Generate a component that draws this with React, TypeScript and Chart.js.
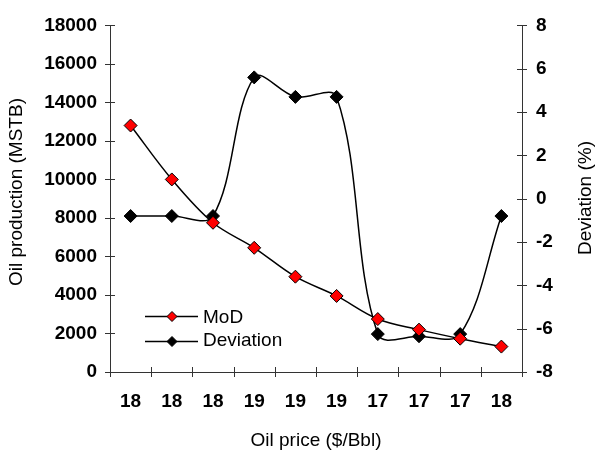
import { useEffect, useRef } from "react";
import { Chart, registerables } from "chart.js";

Chart.register(...registerables);

// Oil price categories along the x axis ($/Bbl)
const priceLabels = ["18", "18", "18", "19", "19", "19", "17", "17", "17", "18"];
// Oil production (MSTB), left axis
const modValues = [12800, 10000, 7750, 6450, 4950, 3950, 2750, 2200, 1730, 1320];
// Deviation (%), right axis
const deviationValues = [-0.8, -0.8, -0.8, 5.6, 4.7, 4.7, -6.25, -6.35, -6.25, -0.8];
// Axis ranges
const productionRange = [0, 18000, 2000];
const deviationRange = [-8, 8, 2];
// Legend entries
const legendNames = ["MoD", "Deviation"];
const legendFills = ["#ff0000", "#000000"];

const FONT = "'Liberation Sans', Arial, Helvetica, sans-serif";
const AXIS = "#333333";
const W = 597;
const H = 455;

// Diamond marker, matching Chart.js 'rectRot'
function diamond(ctx: CanvasRenderingContext2D, x: number, y: number, r: number, fill: string) {
  ctx.beginPath();
  ctx.moveTo(x, y - r);
  ctx.lineTo(x + r, y);
  ctx.lineTo(x, y + r);
  ctx.lineTo(x - r, y);
  ctx.closePath();
  ctx.fillStyle = fill;
  ctx.fill();
  ctx.lineWidth = 1;
  ctx.strokeStyle = "#000";
  ctx.stroke();
}

// Tick marks that cross the axis lines
const crossTicks = {
  id: "crossTicks",
  afterDraw(chart: any) {
    const ctx = chart.ctx as CanvasRenderingContext2D;
    const area = chart.chartArea;
    const { y, y1 } = chart.scales;
    ctx.save();
    ctx.strokeStyle = AXIS;
    ctx.lineWidth = 1;
    ctx.beginPath();
    const n = priceLabels.length;
    for (let i = 0; i <= n; i++) {
      const px = Math.round(area.left + (i * (area.right - area.left)) / n) + 0.5;
      ctx.moveTo(px, area.bottom - 5);
      ctx.lineTo(px, area.bottom + 5);
    }
    y.ticks.forEach((t: any) => {
      const py = Math.round(y.getPixelForValue(t.value)) + 0.5;
      ctx.moveTo(area.left - 5, py);
      ctx.lineTo(area.left + 5, py);
    });
    y1.ticks.forEach((t: any) => {
      const py = Math.round(y1.getPixelForValue(t.value)) + 0.5;
      ctx.moveTo(area.right - 5, py);
      ctx.lineTo(area.right + 5, py);
    });
    ctx.stroke();
    ctx.restore();
  },
};

// Axis titles and the in-plot legend
const annotations = {
  id: "annotations",
  afterDraw(chart: any) {
    const ctx = chart.ctx as CanvasRenderingContext2D;
    const area = chart.chartArea;
    ctx.save();
    ctx.fillStyle = "#000";
    ctx.font = `19px ${FONT}`;
    ctx.textAlign = "center";
    ctx.textBaseline = "middle";

    ctx.fillText("Oil price ($/Bbl)", (area.left + area.right) / 2, 441);

    ctx.save();
    ctx.translate(17, 192);
    ctx.rotate(-Math.PI / 2);
    ctx.fillText("Oil production (MSTB)", 0, 0);
    ctx.restore();

    ctx.save();
    ctx.translate(586, 198);
    ctx.rotate(-Math.PI / 2);
    ctx.fillText("Deviation (%)", 0, 0);
    ctx.restore();

    // legend
    const rows = [316, 341];
    const textRows = [318, 341];
    legendNames.forEach((name, i) => {
      const ly = rows[i] + 0.5;
      ctx.beginPath();
      ctx.moveTo(145, ly);
      ctx.lineTo(198, ly);
      ctx.strokeStyle = "#000";
      ctx.lineWidth = 1.5;
      ctx.stroke();
      diamond(ctx, 172, ly, 5, legendFills[i]);
      ctx.fillStyle = "#000";
      ctx.textAlign = "left";
      ctx.textBaseline = "middle";
      ctx.fillText(name, 203, textRows[i]);
    });
    ctx.restore();
  },
};

export default function App() {
  const canvasRef = useRef<HTMLCanvasElement | null>(null);

  useEffect(() => {
    const canvas = canvasRef.current;
    if (!canvas) return;
    const tickFont = { family: FONT, size: 19, weight: "bold" as const };
    const plain = (v: any) => String(v);
    const chart = new Chart(canvas, {
      type: "line",
      data: {
        labels: priceLabels,
        datasets: [
          {
            label: legendNames[0],
            data: modValues,
            yAxisID: "y",
            borderColor: "#000",
            borderWidth: 1.5,
            backgroundColor: legendFills[0],
            pointStyle: "rectRot",
            pointRadius: 6.5,
            pointBorderColor: "#000",
            pointBorderWidth: 1,
            pointBackgroundColor: legendFills[0],
            tension: 0.35,
            fill: false,
          },
          {
            label: legendNames[1],
            data: deviationValues,
            yAxisID: "y1",
            borderColor: "#000",
            borderWidth: 1.5,
            backgroundColor: legendFills[1],
            pointStyle: "rectRot",
            pointRadius: 6.5,
            pointBorderColor: "#000",
            pointBorderWidth: 1,
            pointBackgroundColor: legendFills[1],
            tension: 0.35,
            fill: false,
          },
        ],
      },
      options: {
        responsive: false,
        animation: false,
        devicePixelRatio: 1,
        layout: { padding: { top: 18, left: 0, right: 0, bottom: 0 } },
        plugins: {
          legend: { display: false },
          tooltip: { enabled: false },
        },
        scales: {
          x: {
            type: "category",
            offset: true,
            grid: { display: true, drawOnChartArea: false, drawTicks: false },
            border: { display: true, color: AXIS, width: 1 },
            ticks: { font: tickFont, color: "#000", padding: 18, maxRotation: 0, autoSkip: false },
            afterFit: (s: any) => {
              s.height = H - 18 - 354;
            },
          },
          y: {
            type: "linear",
            position: "left",
            min: productionRange[0],
            max: productionRange[1],
            grid: { display: true, drawOnChartArea: false, drawTicks: false },
            border: { display: true, color: AXIS, width: 1 },
            ticks: { stepSize: productionRange[2], font: tickFont, color: "#000", padding: 13, callback: plain },
            afterFit: (s: any) => {
              s.width = 110;
            },
          },
          y1: {
            type: "linear",
            position: "right",
            min: deviationRange[0],
            max: deviationRange[1],
            grid: { display: true, drawOnChartArea: false, drawTicks: false },
            border: { display: true, color: AXIS, width: 1 },
            ticks: { stepSize: deviationRange[2], font: tickFont, color: "#000", padding: 14, callback: plain },
            afterFit: (s: any) => {
              s.width = W - 522;
            },
          },
        },
      },
      plugins: [crossTicks, annotations],
    });
    return () => chart.destroy();
  }, []);

  return (
    <div style={{ position: "fixed", left: 0, top: 0, width: W, height: H, background: "#fff" }}>
      <canvas ref={canvasRef} width={W} height={H} style={{ display: "block", width: W, height: H }} />
    </div>
  );
}
